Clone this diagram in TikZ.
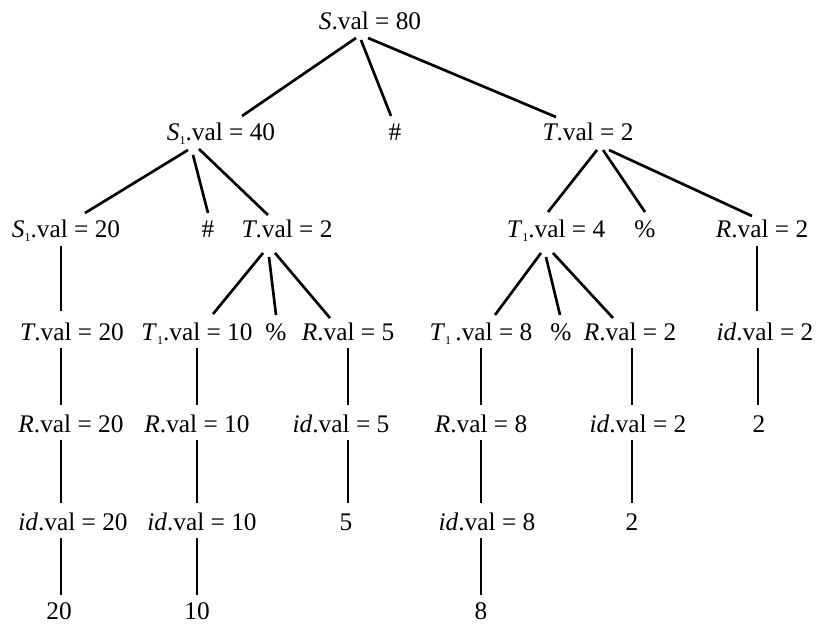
\documentclass[tikz,border=0pt]{standalone}
\usepackage{fontspec}
\setmainfont{Liberation Serif}
\usetikzlibrary{calc}
\newcommand\sub[1]{\raisebox{-0.35ex}{\fontsize{9}{9}\selectfont #1}}
\newcommand\conn[6]{\draw[treeline] ($(#1.base)+(#2,#3)$) -- ($(#4.base)+(#5,#6)$);}
\begin{document}
\begin{tikzpicture}[x=0.75pt,y=-0.75pt,
  lbl/.style={anchor=base,inner sep=0pt,font=\fontsize{19}{22}\selectfont},
  treeline/.style={line width=2pt,black}]
\useasboundingbox (0,0) rectangle (817,625);
% row 0
\node[lbl] (s80) at (370,29) {\textit{S}.val = 80};
% row 1
\node[lbl] (s40) at (221,140) {\textit{S}\sub{1}.val = 40};
\node[lbl] (h1) at (395,140) {\#};
\node[lbl] (t2a) at (588,140) {\textit{T}.val = 2};
% row 2
\node[lbl] (s20) at (66,237) {\textit{S}\sub{1}.val = 20};
\node[lbl] (h2) at (208,237) {\#};
\node[lbl] (t2b) at (287,237) {\textit{T}.val = 2};
\node[lbl] (t4) at (556,237) {\textit{T}\sub{1}.val = 4};
\node[lbl] (p1) at (645,237) {\%};
\node[lbl] (r2a) at (762,237) {\textit{R}.val = 2};
% row 3
\node[lbl] (t20) at (72,340) {\textit{T}.val = 20};
\node[lbl] (t10) at (197,340) {\textit{T}\sub{1}.val = 10};
\node[lbl] (p2) at (276,340) {\%};
\node[lbl] (r5) at (348,340) {\textit{R}.val = 5};
\node[lbl] (t8) at (481,340) {\textit{T}\sub{1}\,.val = 8};
\node[lbl] (p3) at (561,340) {\%};
\node[lbl] (r2b) at (630,340) {\textit{R}.val = 2};
\node[lbl] (id2a) at (765,340) {\textit{id}.val = 2};
% row 4
\node[lbl] (r20) at (71,432) {\textit{R}.val = 20};
\node[lbl] (r10) at (197,432) {\textit{R}.val = 10};
\node[lbl] (id5) at (341,432) {\textit{id}.val = 5};
\node[lbl] (r8) at (481,432) {\textit{R}.val = 8};
\node[lbl] (id2b) at (638,432) {\textit{id}.val = 2};
\node[lbl] (n2a) at (759,432) {2};
% row 5
\node[lbl] (id20) at (73,530) {\textit{id}.val = 20};
\node[lbl] (id10) at (202,530) {\textit{id}.val = 10};
\node[lbl] (n5) at (346,530) {5};
\node[lbl] (id8) at (487,530) {\textit{id}.val = 8};
\node[lbl] (n2b) at (632,530) {2};
% row 6
\node[lbl] (n20) at (59,619) {20};
\node[lbl] (n10) at (197,619) {10};
\node[lbl] (n8) at (481,619) {8};
% diagonal connectors
\conn{s80}{-14}{9}{s40}{21}{-24}
\conn{s80}{-9}{11}{h1}{-4}{-24}
\conn{s80}{-2}{9}{t2a}{-32}{-23}
\conn{s40}{-33}{10}{s20}{19}{-24}
\conn{s40}{-28}{15}{h2}{0}{-24}
\conn{s40}{-22}{9}{t2b}{-19}{-22}
\conn{t2a}{9}{10}{t4}{-8}{-25}
\conn{t2a}{15}{10}{p1}{0}{-25}
\conn{t2a}{21}{10}{r2a}{-10}{-21}
\conn{s20}{-5}{9}{t20}{-11}{-29}
\conn{t2b}{-24}{16}{t10}{16}{-26}
\conn{t2b}{-18}{20}{p2}{0}{-25}
\conn{t2b}{-12}{16}{r5}{-18}{-22}
\conn{t4}{-15}{16}{t8}{14}{-25}
\conn{t4}{-10}{20}{p3}{-1}{-25}
\conn{t4}{-3}{16}{r2b}{-17}{-22}
\conn{r2a}{-5}{9}{id2a}{-8}{-29}
% verticals row 3 -> 4
\conn{t20}{-11}{8}{r20}{-10}{-27}
\conn{t10}{0}{8}{r10}{0}{-27}
\conn{r5}{0}{8}{id5}{7}{-27}
\conn{t8}{0}{8}{r8}{0}{-27}
\conn{r2b}{2}{8}{id2b}{-6}{-27}
\conn{id2a}{-7}{8}{n2a}{-1}{-27}
% verticals row 4 -> 5
\conn{r20}{-10}{8}{id20}{-12}{-27}
\conn{r10}{0}{8}{id10}{-5}{-27}
\conn{id5}{7}{8}{n5}{2}{-27}
\conn{r8}{0}{8}{id8}{-6}{-27}
\conn{id2b}{-6}{8}{n2b}{0}{-27}
% verticals row 5 -> 6
\conn{id20}{-12}{8}{n20}{2}{-24}
\conn{id10}{-5}{8}{n10}{0}{-24}
\conn{id8}{-6}{8}{n8}{0}{-24}
\end{tikzpicture}
\end{document}
